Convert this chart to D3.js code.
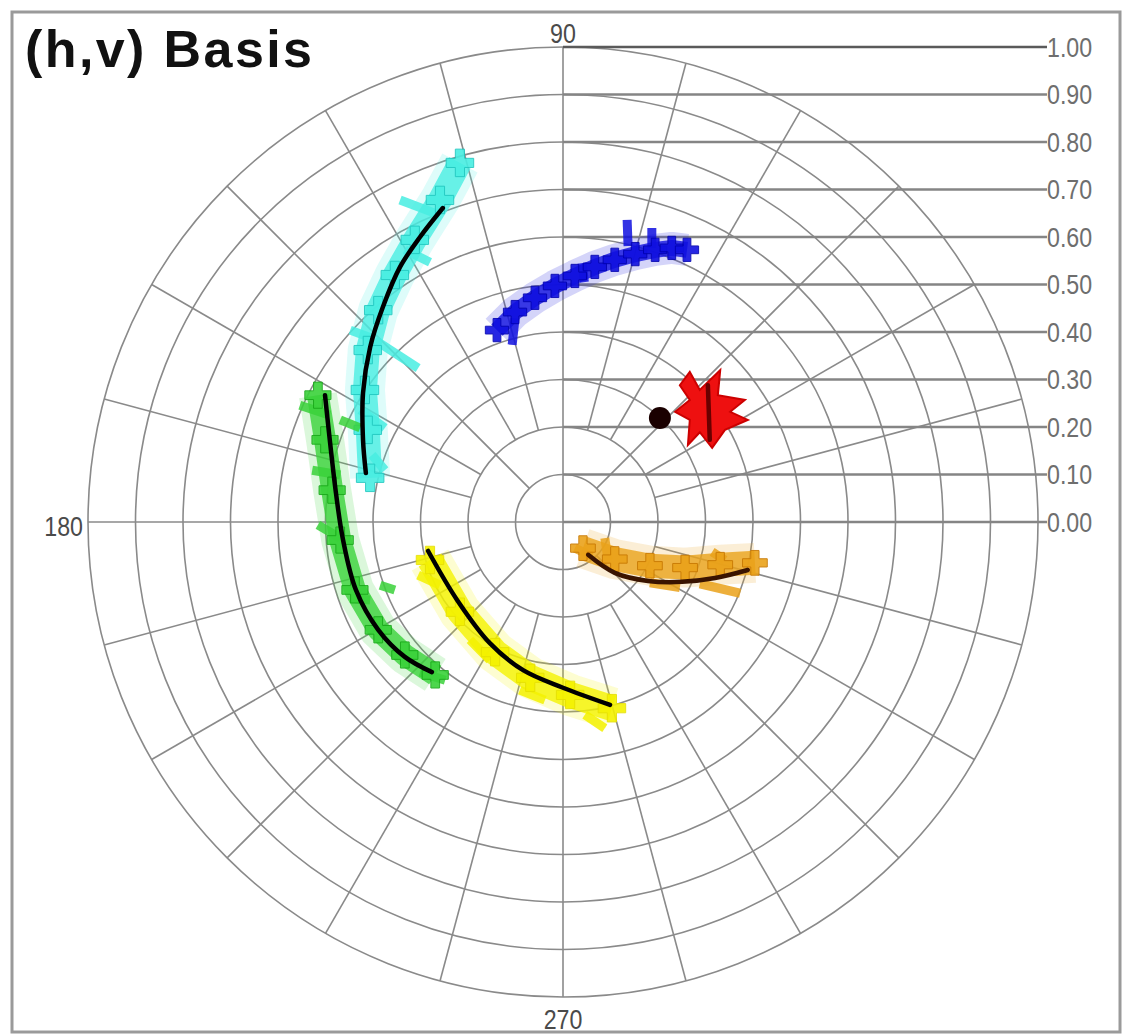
<!DOCTYPE html>
<html>
<head>
<meta charset="utf-8">
<script src="https://cdn.jsdelivr.net/npm/d3@7"></script>
<style>
  body { margin: 0; background: #fff; }
  svg { display: block; }
</style>
</head>
<body>
<div id="chart"></div>
<script>
// ring values (chroma) and labels
var ringValues = [0.1, 0.2, 0.3, 0.4, 0.5, 0.6, 0.7, 0.8, 0.9, 1.0];
var levelLabels = ["0.00", "0.10", "0.20", "0.30", "0.40", "0.50", "0.60", "0.70", "0.80", "0.90", "1.00"];
var angleLabels = [90, 180, 270];

var blueTrace = [[-0.139, 0.404], [-0.101, 0.442], [-0.059, 0.472], [-0.017, 0.497], [0.025, 0.518], [0.067, 0.537],
  [0.109, 0.552], [0.152, 0.564], [0.194, 0.573], [0.229, 0.577], [0.261, 0.573]];
var blueSpikes = [[0.135, 0.636, 0.137, 0.581], [0.187, 0.619, 0.187, 0.577], [-0.107, 0.373, -0.101, 0.429],
  [0.040, 0.545, 0.045, 0.505]];

var cyanTrace = [[-0.217, 0.756], [-0.259, 0.678], [-0.312, 0.594], [-0.354, 0.520], [-0.389, 0.446],
  [-0.411, 0.362], [-0.417, 0.278], [-0.411, 0.194], [-0.406, 0.093]];
var cyanSpikes = [[-0.343, 0.678, -0.259, 0.646], [-0.333, 0.573, -0.280, 0.547], [-0.396, 0.383, -0.305, 0.324],
  [-0.448, 0.404, -0.402, 0.387], [-0.427, 0.236, -0.375, 0.198], [-0.402, 0.141, -0.375, 0.109]];

var greenTrace = [[-0.516, 0.267], [-0.501, 0.173], [-0.486, 0.067], [-0.469, -0.038], [-0.438, -0.143],
  [-0.389, -0.227], [-0.333, -0.280], [-0.269, -0.322]];
var greenSpikes = [[-0.554, 0.246, -0.491, 0.225], [-0.469, 0.215, -0.427, 0.198], [-0.528, 0.109, -0.469, 0.099],
  [-0.516, -0.006, -0.469, -0.034], [-0.448, -0.160, -0.406, -0.164], [-0.385, -0.133, -0.354, -0.143],
  [-0.301, -0.316, -0.248, -0.333]];

var yellowTrace = [[-0.280, -0.080], [-0.217, -0.189], [-0.143, -0.274], [-0.069, -0.328], [0.015, -0.364], [0.103, -0.392]];
var yellowSpikes = [[-0.305, -0.112, -0.259, -0.133], [-0.091, -0.354, -0.038, -0.375], [0.046, -0.406, 0.088, -0.434],
  [-0.196, -0.248, -0.154, -0.291]];

var orangeTrace = [[0.042, -0.055], [0.109, -0.078], [0.183, -0.092], [0.257, -0.096], [0.331, -0.090], [0.404, -0.086]];
var orangeSpikes = [[0.088, -0.034, 0.095, -0.080], [0.025, -0.055, 0.061, -0.072], [0.288, -0.130, 0.373, -0.150],
  [0.314, -0.063, 0.341, -0.080], [0.183, -0.128, 0.246, -0.138]];

var redOutline = [[0.267, 0.316], [0.288, 0.278], [0.331, 0.320], [0.326, 0.267], [0.383, 0.257], [0.352, 0.232],
  [0.389, 0.215], [0.341, 0.194], [0.314, 0.156], [0.288, 0.189], [0.263, 0.162], [0.267, 0.215],
  [0.236, 0.232], [0.267, 0.257], [0.246, 0.288]];

// fitted curves
var cyanFit = [[-0.253, 0.661], [-0.301, 0.600], [-0.343, 0.537], [-0.379, 0.453], [-0.406, 0.368],
  [-0.421, 0.272], [-0.421, 0.173], [-0.415, 0.103]];
var greenFit = [[-0.501, 0.267], [-0.491, 0.173], [-0.478, 0.061], [-0.463, -0.038], [-0.436, -0.143],
  [-0.389, -0.227], [-0.333, -0.284], [-0.276, -0.316]];
var yellowFit = [[-0.284, -0.061], [-0.223, -0.164], [-0.154, -0.255], [-0.084, -0.312], [0.000, -0.349], [0.099, -0.385]];
var orangeFit = [[0.053, -0.069], [0.109, -0.107], [0.179, -0.124], [0.251, -0.126], [0.320, -0.118], [0.389, -0.101]];
var redFit = [[0.305, 0.288], [0.309, 0.173]];
var whitePoint = [0.204, 0.219];

var W = 1130, H = 1036;
var cx = 563, cy = 522, R = 475;

var svg = d3.select("#chart").append("svg")
    .attr("width", W)
    .attr("height", H);

var r = d3.scaleLinear().domain([0, 1]).range([0, R]);
var x = d3.scaleLinear().domain([-1, 1]).range([cx - R, cx + R]);
var y = d3.scaleLinear().domain([-1, 1]).range([cy + R, cy - R]);

// frame
svg.append("rect")
   .attr("x", 12).attr("y", 12)
   .attr("width", 1108).attr("height", 1020)
   .attr("fill", "#fff")
   .attr("stroke", "#9a9a9a")
   .attr("stroke-width", 3);

var grid = svg.append("g")
    .attr("stroke", "#8a8a8a")
    .attr("stroke-width", 1.6)
    .attr("fill", "none");

// rings
grid.selectAll("circle")
    .data(ringValues)
    .join("circle")
    .attr("cx", cx).attr("cy", cy)
    .attr("r", d => r(d));

// spokes every 15 deg, the finer ones start further out
var spokes = d3.range(0, 360, 15).map(function(a){
  var start = a % 90 == 0 ? 0 : (a % 45 == 0 ? 0.1 : 0.2);
  return {a: a, start: start};
});
grid.selectAll("line.spoke")
    .data(spokes)
    .join("line")
    .attr("class", "spoke")
    .attr("x1", d => cx + r(d.start) * Math.cos(d.a * Math.PI / 180))
    .attr("y1", d => cy - r(d.start) * Math.sin(d.a * Math.PI / 180))
    .attr("x2", d => cx + r(1) * Math.cos(d.a * Math.PI / 180))
    .attr("y2", d => cy - r(1) * Math.sin(d.a * Math.PI / 180));

// level lines with labels on the right
var labelFont = "'Liberation Sans', Arial, sans-serif";
var levels = svg.append("g");
levels.selectAll("line")
    .data(levelLabels)
    .join("line")
    .attr("x1", cx)
    .attr("x2", cx + R + 9)
    .attr("y1", (d, i) => y(i / 10))
    .attr("y2", (d, i) => y(i / 10))
    .attr("stroke", (d, i) => i == 10 ? "#5a5a5a" : "#858585")
    .attr("stroke-width", 2.4);
levels.selectAll("text")
    .data(levelLabels)
    .join("text")
    .attr("transform", (d, i) => "translate(" + (cx + R + 9) + "," + y(i / 10) + ") scale(0.86,1)")
    .attr("dy", "0.36em")
    .style("font-family", labelFont)
    .style("font-size", "27px")
    .style("fill", "#6e6e6e")
    .text(d => d);

// angle labels
var angPos = {90: [cx, 33, "middle"], 180: [83, cy + 4, "end"], 270: [cx, 1019, "middle"]};
svg.append("g").selectAll("text")
   .data(angleLabels)
   .join("text")
   .attr("transform", d => "translate(" + angPos[d][0] + "," + angPos[d][1] + ") scale(0.86,1)")
   .attr("dy", "0.36em")
   .attr("text-anchor", d => angPos[d][2])
   .style("font-family", labelFont)
   .style("font-size", "27px")
   .style("fill", "#4a4a4a")
   .text(d => d);

// noisy clusters
var band = d3.line().x(d => x(d[0])).y(d => y(d[1])).curve(d3.curveLinear);
var smooth = d3.line().x(d => x(d[0])).y(d => y(d[1])).curve(d3.curveCatmullRom);

var clusters = [
  {pts: blueTrace, spikes: blueSpikes, color: "#1010e0", edge: "#0000b0", w: 16, s: 300},
  {pts: cyanTrace, spikes: cyanSpikes, color: "#48eee2", edge: "#20c8c0", w: 24, s: 420},
  {pts: greenTrace, spikes: greenSpikes, color: "#3ad23a", edge: "#18a818", w: 22, s: 380},
  {pts: yellowTrace, spikes: yellowSpikes, color: "#f4f200", edge: "#e6e000", w: 26, s: 420},
  {pts: orangeTrace, spikes: orangeSpikes, color: "#eaa21a", edge: "#c87800", w: 24, s: 340}
];
clusters.forEach(function(c){
  var g = svg.append("g");
  // soft fringe
  g.append("path")
   .attr("d", band(c.pts))
   .attr("fill", "none")
   .attr("stroke", c.color)
   .attr("stroke-width", c.w + 16)
   .attr("stroke-linejoin", "round")
   .attr("opacity", 0.18);
  g.append("path")
   .attr("d", band(c.pts))
   .attr("fill", "none")
   .attr("stroke", c.color)
   .attr("stroke-width", c.w)
   .attr("stroke-linejoin", "bevel")
   .attr("opacity", 0.8);
  g.selectAll("line")
   .data(c.spikes)
   .join("line")
   .attr("x1", d => x(d[0])).attr("y1", d => y(d[1]))
   .attr("x2", d => x(d[2])).attr("y2", d => y(d[3]))
   .attr("stroke", c.color)
   .attr("stroke-width", 9)
   .attr("opacity", 0.85);
  g.selectAll("path.m")
   .data(c.pts)
   .join("path")
   .attr("class", "m")
   .attr("transform", d => "translate(" + x(d[0]) + "," + y(d[1]) + ")")
   .attr("d", d3.symbol(d3.symbolCross, c.s))
   .attr("fill", c.color)
   .attr("stroke", c.edge)
   .attr("stroke-width", 1)
   .attr("opacity", 0.9);
});

svg.append("path")
   .attr("d", band(redOutline) + "Z")
   .attr("fill", "#ee1010")
   .attr("stroke", "#cc0000")
   .attr("stroke-width", 2)
   .attr("stroke-linejoin", "miter");

// fitted curves
var fits = [
  {pts: cyanFit, color: "#000"},
  {pts: greenFit, color: "#000"},
  {pts: yellowFit, color: "#000"},
  {pts: orangeFit, color: "#3a1400"},
  {pts: redFit, color: "#6a0000"}
];
svg.append("g").selectAll("path")
   .data(fits)
   .join("path")
   .attr("d", d => smooth(d.pts))
   .attr("fill", "none")
   .attr("stroke", d => d.color)
   .attr("stroke-width", 4.5)
   .attr("stroke-linecap", "round");

svg.append("circle")
   .attr("cx", x(whitePoint[0]))
   .attr("cy", y(whitePoint[1]))
   .attr("r", 11)
   .attr("fill", "#1a0000");

// title
svg.append("text")
   .attr("x", 25)
   .attr("y", 67)
   .style("font-family", "'Liberation Sans', Arial, sans-serif")
   .style("font-weight", "bold")
   .style("font-size", "52px")
   .style("letter-spacing", "2.4px")
   .style("fill", "#111")
   .text("(h,v) Basis");
</script>
</body>
</html>
